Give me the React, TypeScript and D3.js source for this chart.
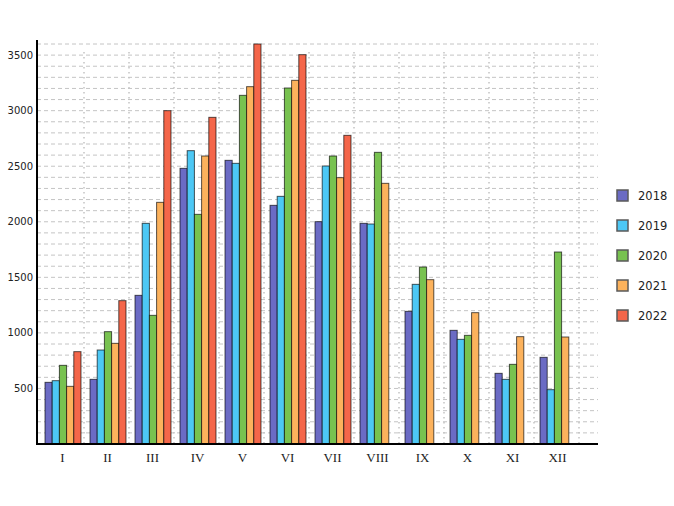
import * as d3 from "d3";

const months = ["I", "II", "III", "IV", "V", "VI", "VII", "VIII", "IX", "X", "XI", "XII"];
const years = ["2018", "2019", "2020", "2021", "2022"];
const colors = ["#6b6bc4", "#4dc8f5", "#78c250", "#fcb25c", "#f4664a"];

// values per year, one entry per month (null = no data)
const v2018 = [555, 582, 1338, 2481, 2553, 2148, 2001, 1986, 1194, 1023, 636, 780];
const v2019 = [570, 846, 1986, 2640, 2526, 2229, 2502, 1980, 1437, 942, 582, 489];
const v2020 = [708, 1011, 1158, 2067, 3138, 3204, 2592, 2625, 1593, 978, 717, 1728];
const v2021 = [519, 906, 2175, 2592, 3216, 3273, 2397, 2346, 1479, 1182, 966, 963];
const v2022 = [831, 1290, 3000, 2940, 3600, 3504, 2778, null, null, null, null, null];
const series = [v2018, v2019, v2020, v2021, v2022];

const yTicks = [500, 1000, 1500, 2000, 2500, 3000, 3500];
const gridValues = d3.range(100, 3700, 100);

const width = 674;
const height = 506;

export default function App() {
    const x0 = d3.scaleBand<string>().domain(months).range([39, 579]);
    const x1 = d3.scaleBand<string>().domain(years).range([6, 42]);
    const y = d3.scaleLinear().domain([0, 3600]).range([444, 44]);

    return (
        <svg
            width={width}
            height={height}
            style={{ position: "absolute", left: 0, top: 0 }}
        >
            {/* horizontal grid */}
            {gridValues.map((g) => (
                <line
                    key={"h" + g}
                    x1={37}
                    x2={598}
                    y1={y(g)}
                    y2={y(g)}
                    stroke="#c4c4c4"
                    strokeDasharray="4,3"
                />
            ))}
            {/* vertical grid */}
            {months.map((m) => (
                <line
                    key={"v" + m}
                    x1={x0(m)! + x0.bandwidth()}
                    x2={x0(m)! + x0.bandwidth()}
                    y1={52}
                    y2={444}
                    stroke="#c4c4c4"
                    strokeWidth={1.5}
                    strokeDasharray="1.5,3.5"
                />
            ))}

            {/* bars */}
            {months.map((m, i) => (
                <g key={m} transform={`translate(${x0(m)},0)`}>
                    {years.map((yr, j) => {
                        const val = series[j][i];
                        if (val == null) return null;
                        return (
                            <rect
                                key={yr}
                                x={x1(yr)}
                                y={y(val)}
                                width={x1.bandwidth()}
                                height={y(0) - y(val)}
                                fill={colors[j]}
                                stroke="rgba(0,0,0,0.65)"
                                strokeWidth={1}
                            />
                        );
                    })}
                </g>
            ))}

            {/* axes */}
            <line x1={37} x2={37} y1={40} y2={445} stroke="#000" strokeWidth={2} />
            <line x1={36} x2={598} y1={444} y2={444} stroke="#000" strokeWidth={2} />

            {yTicks.map((t) => (
                <text
                    key={t}
                    x={33}
                    y={y(t)}
                    dy="0.35em"
                    textAnchor="end"
                    fontFamily="DejaVu Sans, Verdana, sans-serif"
                    fontSize={10}
                    fill="#222"
                >
                    {t}
                </text>
            ))}
            {months.map((m) => (
                <text
                    key={"l" + m}
                    x={x0(m)! + x0.bandwidth() / 2 + 1}
                    y={462}
                    textAnchor="middle"
                    fontFamily="Liberation Serif, Times New Roman, serif"
                    fontSize={13}
                    fill="#222"
                >
                    {m}
                </text>
            ))}

            {/* legend */}
            {years.map((yr, j) => (
                <g key={"lg" + yr} transform={`translate(617,${195.5 + j * 30})`}>
                    <rect
                        x={0}
                        y={-5.5}
                        width={11}
                        height={11}
                        fill={colors[j]}
                        stroke="#5a5a5a"
                        strokeWidth={1.5}
                    />
                    <text
                        x={21}
                        y={0}
                        dy="0.35em"
                        fontFamily="DejaVu Sans, Verdana, sans-serif"
                        fontSize={11.5}
                        fill="#222"
                    >
                        {yr}
                    </text>
                </g>
            ))}
        </svg>
    );
}
